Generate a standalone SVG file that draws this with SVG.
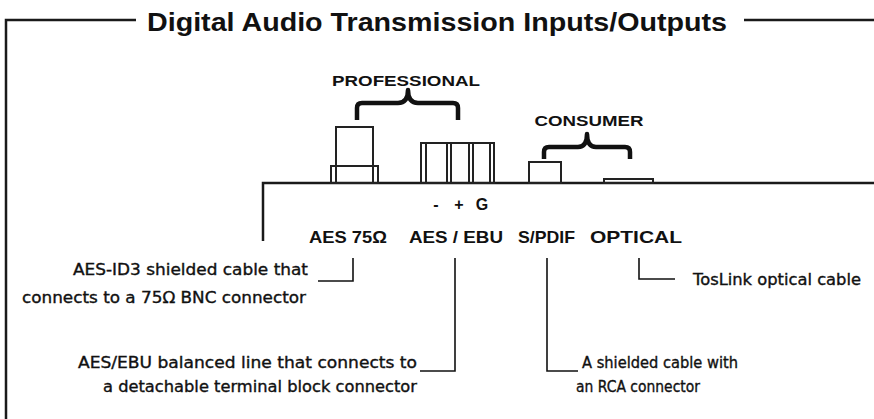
<svg xmlns="http://www.w3.org/2000/svg" width="874" height="419" viewBox="0 0 874 419">
<style>
.frame{fill:none;stroke:#1a1a1a;stroke-width:2.5}
.conn{fill:none;stroke:#222;stroke-width:2}
.brace{fill:none;stroke:#111;stroke-width:4.5;stroke-linejoin:round}
.lead{fill:none;stroke:#111;stroke-width:1.6}
.title{font-family:"Liberation Sans",Arial,sans-serif;font-weight:bold;font-size:26px;fill:#111}
.head{font-family:"Liberation Sans",Arial,sans-serif;font-weight:bold;font-size:15px;fill:#111}
.pm{font-family:"Liberation Sans",Arial,sans-serif;font-weight:bold;font-size:16px;fill:#111}
.lab{font-family:"Liberation Sans",Arial,sans-serif;font-weight:bold;font-size:17px;fill:#111}
.note{font-family:"DejaVu Sans","Liberation Sans",sans-serif;font-size:15px;fill:#111;stroke:#111;stroke-width:0.35}
</style>
<rect width="874" height="419" fill="#fff"/>
<g id="frame">
<polyline class="frame" points="136,20 6,20 6,419"/>
<line class="frame" x1="744" y1="20" x2="874" y2="20"/>
<text class="title" x="147" y="31" textLength="580" lengthAdjust="spacingAndGlyphs">Digital Audio Transmission Inputs/Outputs</text>
</g>
<g id="device">
<polyline class="frame" points="263,241 263,183 874,183"/>
</g>
<g id="bnc">
<rect class="conn" x="336" y="127" width="37" height="56"/>
<rect class="conn" x="331" y="166" width="47" height="17"/>
</g>
<g id="terminal-block">
<rect class="conn" x="421" y="143" width="73" height="40"/>
<line class="conn" x1="426" y1="143" x2="426" y2="183"/>
<line class="conn" x1="447" y1="143" x2="447" y2="183"/>
<line class="conn" x1="451" y1="143" x2="451" y2="183"/>
<line class="conn" x1="469" y1="143" x2="469" y2="183"/>
<line class="conn" x1="473" y1="143" x2="473" y2="183"/>
<line class="conn" x1="490" y1="143" x2="490" y2="183"/>
</g>
<g id="rca">
<rect class="conn" x="529" y="162" width="32" height="21"/>
</g>
<g id="optical">
<rect class="conn" x="604" y="179" width="49" height="4"/>
</g>
<g id="professional">
<path class="brace" d="M357,120 V108 Q357,103 362,103 H398 Q408,103 408,90 Q408,103 418,103 H453 Q458,103 458,108 V120"/>
<text class="head" x="406" y="86" text-anchor="middle" textLength="148" lengthAdjust="spacingAndGlyphs">PROFESSIONAL</text>
</g>
<g id="consumer">
<path class="brace" d="M544,159 V152 Q544,147 549,147 H578 Q587,147 587,134 Q587,147 596,147 H625 Q630,147 630,152 V159"/>
<text class="head" x="589" y="126" text-anchor="middle" textLength="109" lengthAdjust="spacingAndGlyphs">CONSUMER</text>
</g>
<g id="labels">
<text class="pm" x="436" y="210" text-anchor="middle">-</text>
<text class="pm" x="459" y="210" text-anchor="middle">+</text>
<text class="pm" x="482" y="210" text-anchor="middle">G</text>
<text class="lab" x="309" y="243" textLength="78" lengthAdjust="spacingAndGlyphs">AES 75Ω</text>
<text class="lab" x="409" y="243" textLength="94" lengthAdjust="spacingAndGlyphs">AES / EBU</text>
<text class="lab" x="518" y="243" textLength="57" lengthAdjust="spacingAndGlyphs">S/PDIF</text>
<text class="lab" x="590" y="243" textLength="92" lengthAdjust="spacingAndGlyphs">OPTICAL</text>
</g>
<g id="connectors">
<polyline class="lead" points="353,258 353,281 318,281"/>
<polyline class="lead" points="455,258 455,371 420,371"/>
<polyline class="lead" points="547,258 547,371 578,371"/>
<polyline class="lead" points="639,258 639,279 675,279"/>
</g>
<g id="notes">
<text class="note" x="308" y="275" text-anchor="end" textLength="235" lengthAdjust="spacingAndGlyphs">AES-ID3 shielded cable that</text>
<text class="note" x="306" y="303" text-anchor="end" textLength="284" lengthAdjust="spacingAndGlyphs">connects to a 75Ω BNC connector</text>
<text class="note" x="693" y="285" textLength="168" lengthAdjust="spacingAndGlyphs">TosLink optical cable</text>
<text class="note" x="417" y="368" text-anchor="end" textLength="339" lengthAdjust="spacingAndGlyphs">AES/EBU balanced line that connects to</text>
<text class="note" x="417" y="392" text-anchor="end" textLength="314" lengthAdjust="spacingAndGlyphs">a detachable terminal block connector</text>
<text class="note" x="582" y="368" textLength="156" lengthAdjust="spacingAndGlyphs">A shielded cable with</text>
<text class="note" x="576" y="392" textLength="124" lengthAdjust="spacingAndGlyphs">an RCA connector</text>
</g>
</svg>
